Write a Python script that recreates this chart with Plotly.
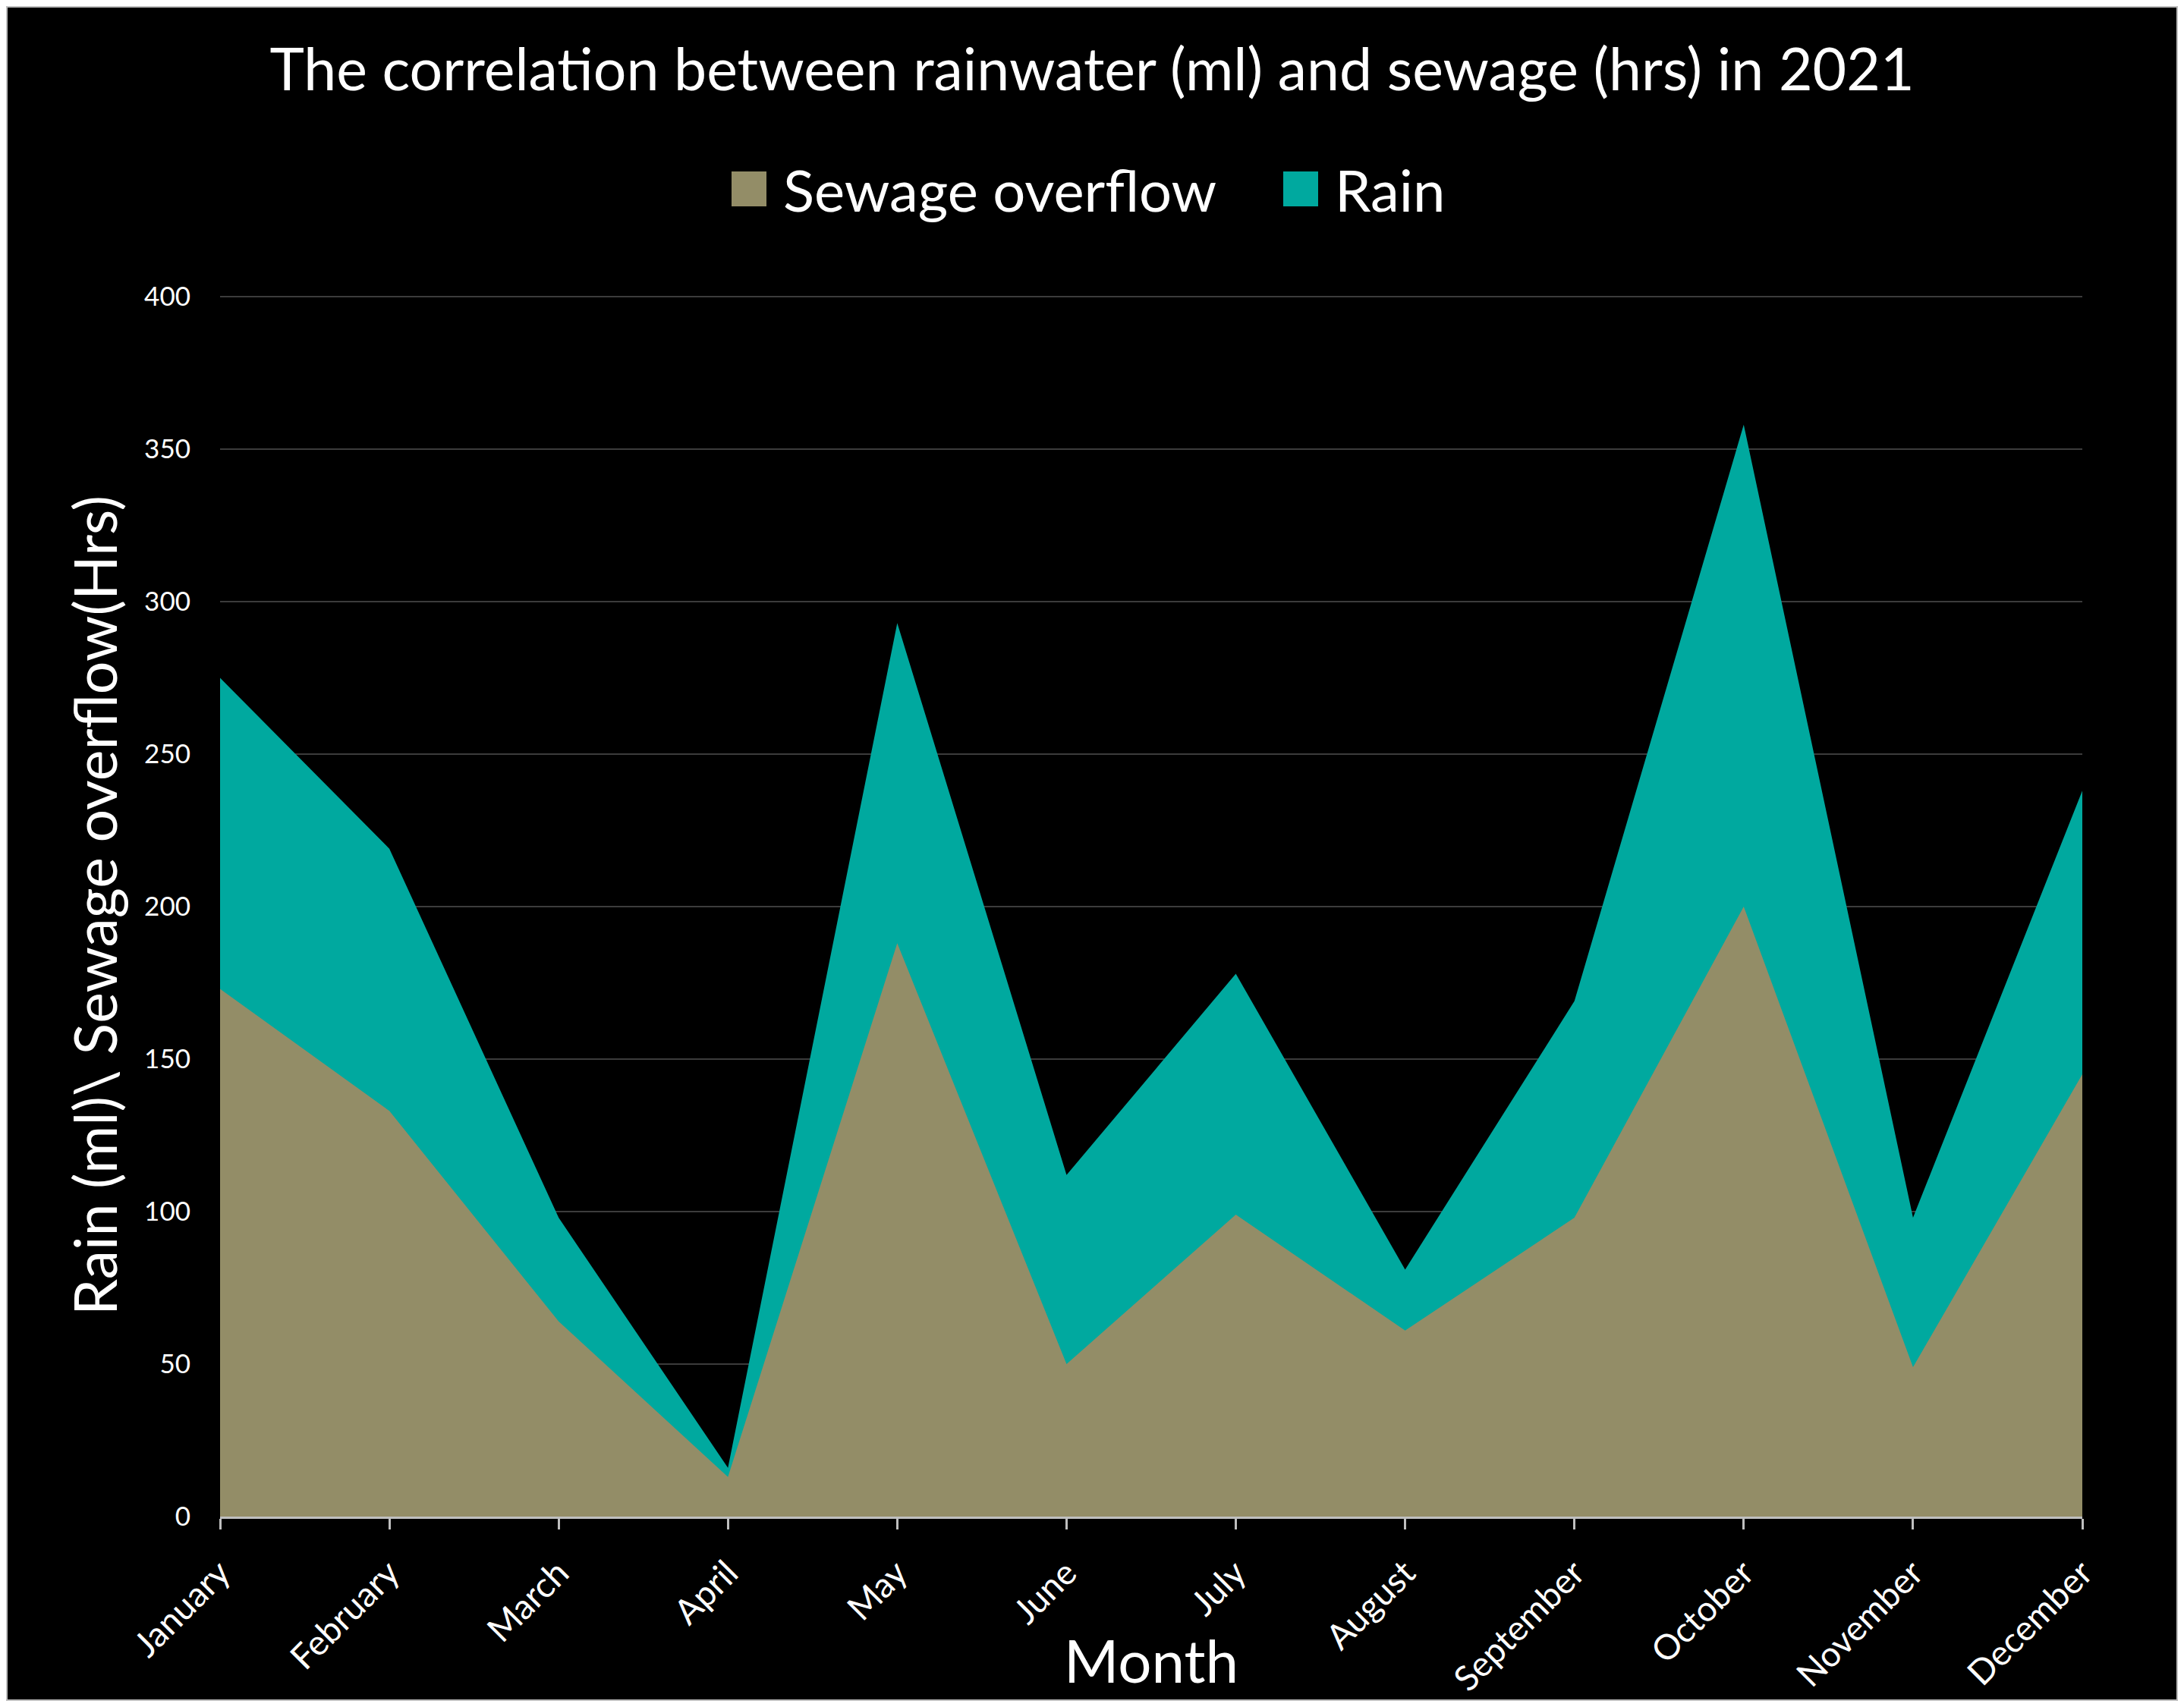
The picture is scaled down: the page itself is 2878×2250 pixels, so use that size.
import plotly.graph_objects as go

# Monthly values (2021)
months = ["January", "February", "March", "April", "May", "June", "July",
          "August", "September", "October", "November", "December"]
rain_ml = [275, 219, 98, 16, 293, 112, 178, 81, 169, 358, 98, 238]
sewage_hrs = [173, 133, 64, 13, 188, 50, 99, 61, 98, 200, 49, 145]
y_ticks = [0, 50, 100, 150, 200, 250, 300, 350, 400]

COL = {"rain": "#00A99F", "sewage": "#938D67", "grid": "#3C3C3C",
       "axis": "#BFBFBF", "ink": "#FFFFFF", "frame": "#BEBEBE"}
FONT = "Lato, 'Open Sans', Arial"

# the page body keeps an 8px margin, so the figure is a bit smaller than the window
W, H = 2878 - 16, 2250 - 16
L, R, T, B = 282, 126, 381, 243
PW, PH = W - L - R, H - T - B


def px(x):  # figure pixel -> paper x
    return (x - L) / PW


def py(y):  # figure pixel -> paper y
    return 1 - (y - T) / PH


fig = go.Figure()
# rain behind, sewage in front (overlapping areas, not stacked)
fig.add_trace(go.Scatter(x=months, y=rain_ml, name="Rain", mode="none",
                         fill="tozeroy", fillcolor=COL["rain"]))
fig.add_trace(go.Scatter(x=months, y=sewage_hrs, name="Sewage overflow", mode="none",
                         fill="tozeroy", fillcolor=COL["sewage"]))

# legend drawn by hand: Excel-style big square keys
legend_items = [("Sewage overflow", COL["sewage"], 956), ("Rain", COL["rain"], 1683)]
shapes = [dict(type="rect", xref="paper", yref="paper", layer="above",
               x0=px(1), x1=px(W - 1), y0=py(H - 1), y1=py(1),
               fillcolor="rgba(0,0,0,0)", line=dict(color=COL["frame"], width=2))]
annotations = []
for name, color, x0 in legend_items:
    shapes.append(dict(type="rect", xref="paper", yref="paper",
                       x0=px(x0), x1=px(x0 + 46), y0=py(264), y1=py(218),
                       fillcolor=color, line=dict(width=0)))
    annotations.append(dict(text=name, xref="paper", yref="paper",
                            x=px(x0 + 66), y=py(241), xanchor="left", yanchor="middle",
                            showarrow=False, font=dict(size=76, color=COL["ink"])))

annotations += [
    dict(text="Rain (ml)\\ Sewage overflow(Hrs)", textangle=-90,
         xref="paper", yref="paper", x=px(116), y=0.5,
         xanchor="center", yanchor="middle", showarrow=False,
         font=dict(size=77, color=COL["ink"])),
    dict(text="Month", xref="paper", yref="paper", x=0.5, y=py(2180),
         xanchor="center", yanchor="middle", showarrow=False,
         font=dict(size=78, color=COL["ink"])),
]

fig.update_layout(
    width=W, height=H,
    margin=dict(l=L, r=R, t=T, b=B),
    paper_bgcolor="#000000", plot_bgcolor="#000000",
    font=dict(family=FONT, color=COL["ink"]),
    title=dict(text="The correlation between rainwater (ml) and sewage (hrs) in 2021",
               x=0.5, xanchor="center", y=1 - 84 / H, yanchor="middle",
               font=dict(size=77, color=COL["ink"])),
    showlegend=False,
    shapes=shapes,
    annotations=annotations,
)

fig.update_xaxes(
    type="category", range=[0, len(months) - 1], automargin=False,
    showgrid=False, showline=True, linecolor=COL["axis"], linewidth=3,
    ticks="outside", tickcolor=COL["axis"], ticklen=14, tickwidth=3,
    tickangle=-45, tickfont=dict(size=46, color=COL["ink"]),
    ticklabelstandoff=12, zeroline=False)

fig.update_yaxes(
    range=[0, 400.5], tickvals=y_ticks, showgrid=True, gridcolor=COL["grid"],
    gridwidth=2, showline=False, zeroline=False, ticks="", automargin=False,
    tickfont=dict(size=35, color=COL["ink"]), ticklabelstandoff=38)

fig.write_html("out.html")
